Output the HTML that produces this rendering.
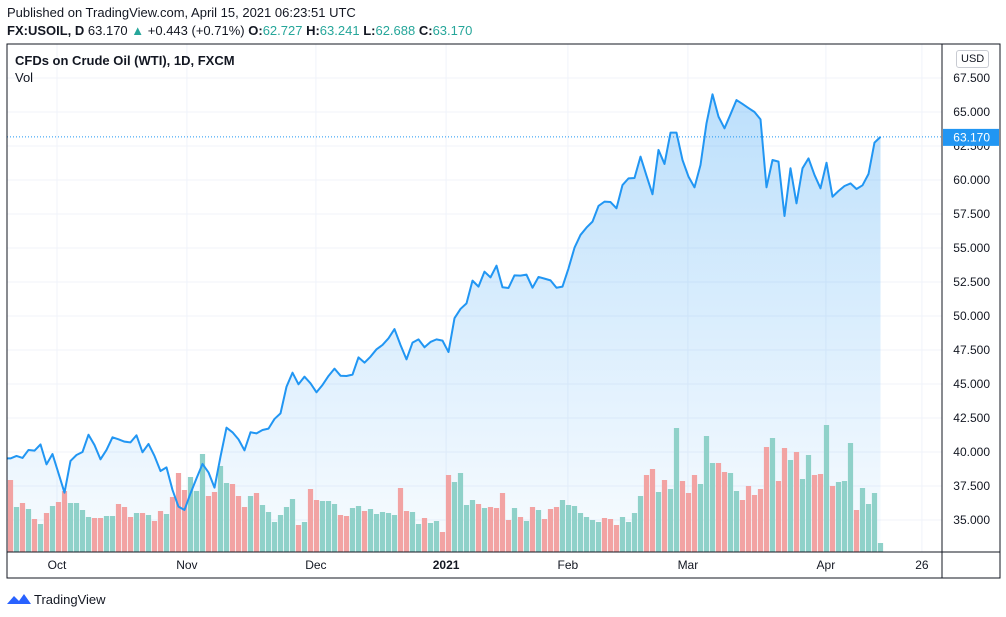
<!DOCTYPE html>
<html><head><meta charset="utf-8">
<style>
body{margin:0;width:1006px;height:617px;background:#fff;font-family:"Liberation Sans",sans-serif;overflow:hidden;position:relative}
.t{position:absolute;white-space:nowrap;color:#131722}
</style></head><body>
<div class="t" style="left:7px;top:5px;font-size:13px">Published on TradingView.com, April 15, 2021 06:23:51 UTC</div>
<div class="t" style="left:7px;top:23px;font-size:13px"><b>FX:USOIL, D</b> 63.170 <span style="color:#26a69a">▲</span> +0.443 (+0.71%) <b>O:</b><span style="color:#26a69a">62.727</span> <b>H:</b><span style="color:#26a69a">63.241</span> <b>L:</b><span style="color:#26a69a">62.688</span> <b>C:</b><span style="color:#26a69a">63.170</span></div>
<svg id="chart" width="1006" height="617" style="position:absolute;left:0;top:0"></svg>
<div class="t" style="left:15px;top:53px;font-size:13px;font-weight:bold">CFDs on Crude Oil (WTI), 1D, FXCM</div>
<div class="t" style="left:15px;top:70px;font-size:13px">Vol</div>
<div class="t" style="left:956px;top:50px;font-size:11px;border:1px solid #c8cbd2;border-radius:3px;padding:2px 4px;color:#131722">USD</div>
<svg width="26" height="14" style="position:absolute;left:6px;top:592px"><path d="M1 12 L8 4 L13 9 L18 2 L25 12 Z" fill="#2962ff"/></svg>
<div class="t" style="left:34px;top:592px;font-size:13px">TradingView</div>
<script>
const closes=[39.53,39.71,39.56,40.15,40.10,40.56,39.09,39.85,38.43,37.01,39.34,39.78,40.00,41.27,40.51,39.46,40.15,41.08,40.93,40.76,40.71,41.23,39.98,40.59,39.71,38.60,38.87,37.21,35.98,35.74,36.96,38.06,39.12,38.50,37.38,39.66,41.79,41.45,40.93,40.12,41.45,41.37,41.62,41.72,42.43,42.84,44.80,45.83,44.98,45.54,45.05,44.39,44.93,45.59,46.13,45.61,45.59,45.69,46.96,46.57,47.01,47.55,47.87,48.36,49.04,47.87,46.81,48.04,48.28,47.70,48.09,48.28,48.19,47.35,49.84,50.52,50.93,52.60,52.16,53.26,52.84,53.70,52.11,52.06,52.99,52.97,53.04,52.08,52.87,52.75,52.62,52.08,52.16,53.50,55.02,55.96,56.50,56.94,58.09,58.41,58.38,57.92,59.63,60.12,60.15,61.72,60.32,58.95,62.21,61.18,63.48,63.48,61.47,60.25,59.46,61.10,64.17,66.30,64.66,63.80,64.83,65.88,65.59,65.29,65.00,64.46,59.46,61.47,61.35,57.35,60.86,58.28,60.86,61.59,60.37,59.39,61.27,58.77,59.19,59.56,59.75,59.34,59.61,60.44,62.75,63.17];
const volumes=[72,45,49,43,33,28,39,46,50,61,49,49,42,35,34,34,36,36,48,45,35,39,39,37,31,41,38,55,79,62,75,61,98,56,60,86,69,68,56,45,56,59,47,40,30,37,45,53,27,30,63,52,51,51,48,37,36,44,46,41,43,38,40,39,37,64,41,40,28,34,29,31,20,77,70,79,47,52,48,44,45,44,59,32,44,35,31,45,42,33,43,45,52,47,46,39,35,32,30,34,33,27,35,30,39,56,77,83,60,72,63,124,71,59,77,68,116,89,89,80,79,61,52,66,57,63,105,114,71,104,92,100,73,97,77,78,127,66,70,71,109,42,64,48,59,9];
const upDays=[0,1,0,1,0,1,0,1,0,0,1,1,1,1,0,0,1,1,0,0,0,1,0,1,0,0,1,0,0,0,1,1,1,0,0,1,1,0,0,0,1,0,1,1,1,1,1,1,0,1,0,0,1,1,1,0,0,1,1,0,1,1,1,1,1,0,0,1,1,0,1,1,0,0,1,1,1,1,0,1,0,0,0,0,1,0,1,0,1,0,0,0,1,1,1,1,1,1,1,0,0,0,1,1,1,1,0,0,1,0,1,1,0,0,0,1,1,1,0,0,1,1,0,0,0,0,0,1,0,0,1,0,1,1,0,0,1,0,1,1,1,0,1,1,1,1];
const priceTicks=[35,37.5,40,42.5,45,47.5,50,52.5,55,57.5,60,62.5,65,67.5];
const monthLabels=["Oct","Nov","Dec","2021","Feb","Mar","Apr","26"];
const monthIdx=[7.75,29.4,50.9,72.6,92.9,112.9,135.9,151.9];
const last=63.17;
const svg=document.getElementById('chart');
const NS='http://www.w3.org/2000/svg';
const L=7,R=942,T=44,B=552;
const yP=v=>520-(v-35)*13.6;
const xI=i=>10.5+i*6;
const vH=v=>v;
function mk(tag,attrs,parent){const e=document.createElementNS(NS,tag);for(const k in attrs)e.setAttribute(k,attrs[k]);(parent||svg).appendChild(e);return e;}
const defs=mk('defs',{});
const g=mk('linearGradient',{id:'fillg',x1:0,y1:0,x2:0,y2:1},defs);
mk('stop',{offset:'0','stop-color':'#2196f3','stop-opacity':'0.3'},g);
mk('stop',{offset:'1','stop-color':'#2196f3','stop-opacity':'0.03'},g);
const clip=mk('clipPath',{id:'cp'},defs);mk('rect',{x:L,y:T,width:R-L,height:B-T},clip);
// grid
priceTicks.forEach((p,k)=>{
 const gl=mk('line',{x1:L,x2:R,y1:yP(p),y2:yP(p),stroke:'#f0f3fa','stroke-width':1});
 
 
 const tx=mk('text',{x:990,y:yP(p)+4,'text-anchor':'end','font-size':12,fill:'#131722','font-family':'Liberation Sans'});
 tx.textContent=p.toFixed(3);
 
 
});
monthLabels.forEach((m,k)=>{
 const x=xI(monthIdx[k]);
 const vl=mk('line',{x1:x,x2:x,y1:T,y2:B,stroke:'#f0f3fa','stroke-width':1});
 
 
 const tx=mk('text',{x:x,y:569,'text-anchor':'middle','font-size':12,fill:'#131722','font-family':'Liberation Sans','font-weight':m==='2021'?'bold':'normal'});
 tx.textContent=m;
 
 
});
const cg=mk('g',{'clip-path':'url(#cp)'});
// area
let d='M'+xI(0)+' '+yP(closes[0]);
closes.forEach((c,i)=>{if(i)d+=' L'+xI(i)+' '+yP(c);});
const area=mk('path',{d:d+' L'+xI(closes.length-1)+' '+B+' L'+L+' '+B+' L'+L+' '+yP(closes[0])+' Z',fill:'url(#fillg)'},cg);


// volume
volumes.forEach((v,i)=>{
 const r=mk('rect',{x:xI(i)-2.6,y:B-vH(v),width:5.2,height:vH(v),fill:upDays[i]?'#8fd1c9':'#f2a3a3'},cg);
 
 
});
const line=mk('path',{d:'M'+L+' '+yP(closes[0])+' L'+d.slice(1),fill:'none',stroke:'#2196f3','stroke-width':2,'stroke-linejoin':'round'},cg);


const pl=mk('line',{x1:L,x2:R,y1:yP(last),y2:yP(last),stroke:'#2196f3','stroke-width':1,'stroke-dasharray':'1 2'});


// borders
mk('rect',{x:L,y:T,width:1000-L,height:578-T,fill:'none',stroke:'#131722','stroke-width':1});
mk('line',{x1:R,x2:R,y1:T,y2:578,stroke:'#131722','stroke-width':1});
mk('line',{x1:L,x2:1000,y1:B,y2:B,stroke:'#131722','stroke-width':1});
const lb=mk('rect',{x:943,y:yP(last)-8,width:56,height:17,fill:'#2196f3'});


const lt=mk('text',{x:990,y:yP(last)+4.5,'text-anchor':'end','font-size':12,fill:'#fff','font-family':'Liberation Sans'});
lt.textContent=last.toFixed(3);


</script>
</body></html>
